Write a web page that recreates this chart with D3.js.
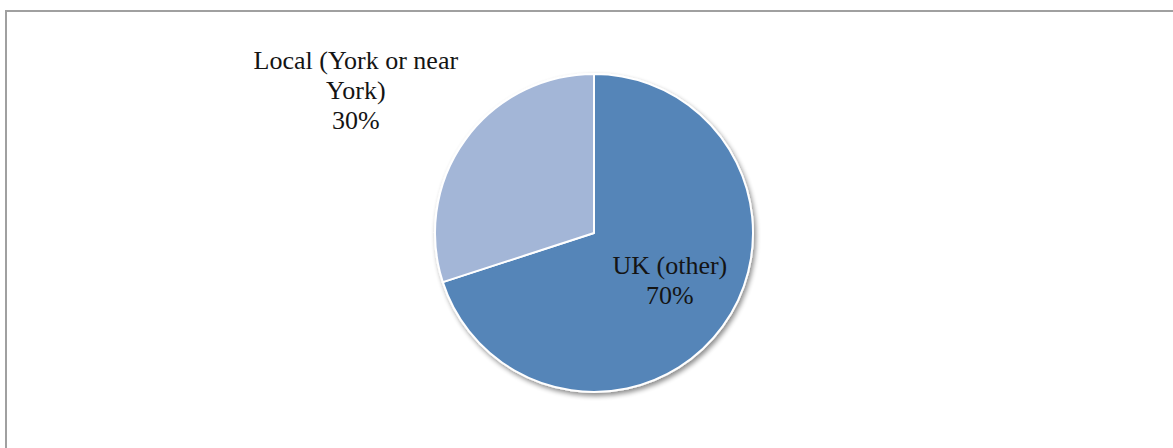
<!DOCTYPE html>
<html>
<head>
<meta charset="utf-8">
<script src="https://cdn.jsdelivr.net/npm/d3@7/dist/d3.min.js"></script>
</head>
<body style="margin:0">
<svg id="chart" width="1173" height="448"></svg>
<script>
// Where visitors come from
const categories = ["UK (other)", "Local (York or near York)"];
const shares = [70, 30];
const labelLines = [["UK (other)", "70%"], ["Local (York or near", "York)", "30%"]];
const sliceColors = ["#5585B8", "#A3B6D7"];

const W = 1173, H = 448;
const svg = d3.select("#chart");

// chart frame
svg.append("rect")
  .attr("x", 6).attr("y", 11)
  .attr("width", W + 10).attr("height", H + 10)
  .attr("fill", "#fff")
  .attr("stroke", "#a0a0a0")
  .attr("stroke-width", 2);

const defs = svg.append("defs");
const f = defs.append("filter").attr("id", "shadow")
  .attr("x", "-10%").attr("y", "-10%").attr("width", "120%").attr("height", "120%");
f.append("feGaussianBlur").attr("in", "SourceAlpha").attr("stdDeviation", 2.5).attr("result", "b");
f.append("feOffset").attr("in", "b").attr("dx", 1.5).attr("dy", 3).attr("result", "o");
f.append("feComponentTransfer").attr("in", "o").attr("result", "s")
  .append("feFuncA").attr("type", "linear").attr("slope", 0.45);
const merge = f.append("feMerge");
merge.append("feMergeNode").attr("in", "s");
merge.append("feMergeNode").attr("in", "SourceGraphic");

const cx = 594, cy = 233, r = 159;

const pie = d3.pie().sort(null).value(d => d)(shares);
const arc = d3.arc().innerRadius(0).outerRadius(r);

const g = svg.append("g").attr("transform", `translate(${cx},${cy})`);
const slices = g.append("g").attr("filter", "url(#shadow)");
slices.selectAll("path")
  .data(pie)
  .join("path")
  .attr("d", arc)
  .attr("fill", (d, i) => sliceColors[i])
  .attr("stroke", "#fff")
  .attr("stroke-width", 2)
  .attr("stroke-linejoin", "round");

// data labels: first one inside its slice, second one outside the pie
const lineH = 30;
const fontSize = 26;

function drawLabel(lines, x, yCenter) {
  const y0 = yCenter - (lines.length - 1) * lineH / 2 + fontSize * 0.33;
  lines.forEach((s, i) => {
    svg.append("text")
      .attr("x", x)
      .attr("y", y0 + i * lineH)
      .attr("text-anchor", "middle")
      .style("font-family", '"Liberation Serif"')
      .style("font-size", fontSize + "px")
      .style("fill", "#141414")
      .text(s);
  });
}

const insideArc = d3.arc().innerRadius(r * 0.59).outerRadius(r * 0.59);
const c0 = insideArc.centroid(pie[0]);
drawLabel(labelLines[0], cx + c0[0], cy + c0[1] - 8);

const outerArc = d3.arc().innerRadius(r * 1.7).outerRadius(r * 1.7);
const c1 = outerArc.centroid(pie[1]);
drawLabel(labelLines[1], cx + c1[0] - 19.5, cy + c1[1] + 16);
</script>
</body>
</html>
